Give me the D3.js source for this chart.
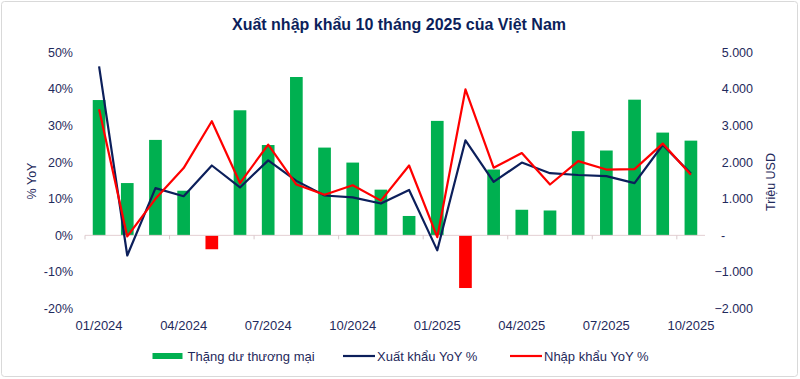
<!DOCTYPE html>
<html><head><meta charset="utf-8">
<script src="https://cdn.jsdelivr.net/npm/d3@7"></script>
<style>body{margin:0;background:#fff}svg{display:block;font-family:"Liberation Sans",Arial,sans-serif}</style>
</head><body><svg id="c" width="800" height="379"></svg>
<script>
const months = ["01/2024","02/2024","03/2024","04/2024","05/2024","06/2024","07/2024","08/2024","09/2024","10/2024","11/2024","12/2024",
"01/2025","02/2025","03/2025","04/2025","05/2025","06/2025","07/2025","08/2025","09/2025","10/2025"];
const surplus = [3700,1430,2610,1220,-380,3420,2470,4330,2400,1990,1250,530,3130,-1440,1800,700,680,2850,2320,3710,2810,2590];
const exportYoY = [46.2,-5.5,12.9,10.7,19.1,13.1,20.5,14.9,10.9,10.4,8.7,12.4,-4.1,26.0,14.6,19.9,17.0,16.5,16.2,14.3,24.7,16.9];
const importYoY = [34.5,-0.3,10.0,18.4,31.2,14.3,24.8,13.9,11.1,13.7,9.5,19.1,-0.5,39.9,18.5,22.5,13.9,20.3,18.0,18.1,25.1,16.6];
const leftTicks = [-20,-10,0,10,20,30,40,50];
const rightTicks = [-2000,-1000,0,1000,2000,3000,4000,5000];
const xLabelMonths = ["01/2024","04/2024","07/2024","10/2024","01/2025","04/2025","07/2025","10/2025"];
const title = "Xuất nhập khẩu 10 tháng 2025 của Việt Nam";
const legendItems = ["Thặng dư thương mại","Xuất khẩu YoY %","Nhập khẩu YoY %"];

const navy = "#0c1f5b", red = "#ff0000", green = "#00b050", txt = "#1f2a5c";
const svg = d3.select("#c");
svg.append("rect").attr("x",1.5).attr("y",1.5).attr("width",796).attr("height",375).attr("rx",3)
  .attr("fill","#fff").attr("stroke","#d9d9d9");

const x = d3.scaleBand().domain(months).range([85,705]).paddingInner(0.55).paddingOuter(0.275);
const yL = d3.scaleLinear().domain([-20,50]).range([308.5,52.5]);
const yR = d3.scaleLinear().domain([-2000,5000]).range([308.5,52.5]);
const cx = d => x(d) + x.bandwidth()/2;

svg.append("text").attr("x",399).attr("y",30).attr("text-anchor","middle")
  .attr("font-size",16).attr("font-weight","bold").attr("fill",navy).text(title);

// bars
svg.append("g").selectAll("rect").data(months).join("rect")
  .attr("x",d=>x(d)).attr("width",x.bandwidth())
  .attr("y",(d,i)=>yR(Math.max(0,surplus[i])))
  .attr("height",(d,i)=>Math.abs(yR(surplus[i])-yR(0)))
  .attr("fill",(d,i)=>surplus[i]<0?red:green);

// zero axis line
const step = x.step();
svg.append("line").attr("x1",85).attr("x2",705).attr("y1",yL(0)).attr("y2",yL(0))
  .attr("stroke","#e3cfd3").attr("stroke-width",1);
svg.append("g").selectAll("line").data(xLabelMonths).join("line")
  .attr("x1",d=>x(d)-step*0.275).attr("x2",d=>x(d)-step*0.275)
  .attr("y1",yL(0)).attr("y2",yL(0)+4).attr("stroke","#d9c9cc");

// lines
const line = arr => d3.line().x((d,i)=>cx(months[i])).y(d=>yL(d))(arr);
svg.append("path").attr("d",line(exportYoY)).attr("fill","none").attr("stroke",navy).attr("stroke-width",2.2).attr("stroke-linejoin","round");
svg.append("path").attr("d",line(importYoY)).attr("fill","none").attr("stroke",red).attr("stroke-width",2.2).attr("stroke-linejoin","round");

// left axis labels
svg.append("g").selectAll("text").data(leftTicks).join("text")
  .attr("x",73).attr("y",d=>yL(d)).attr("dy","0.35em").attr("text-anchor","end")
  .attr("font-size",12.5).attr("fill",txt).text(d=>d+"%");
svg.append("text").attr("transform","translate(36,181) rotate(-90)").attr("text-anchor","middle")
  .attr("font-size",12.5).attr("fill",txt).text("% YoY");

// right axis labels
const loc = d3.formatLocale({decimal:",",thousands:".",grouping:[3],currency:["",""]});
const fmt = loc.format(",d");
svg.append("g").selectAll("text").data(rightTicks).join("text")
  .attr("x",d=>d===0?721:753).attr("y",d=>yR(d)).attr("dy","0.35em").attr("text-anchor",d=>d===0?"start":"end")
  .attr("font-size",12.5).attr("fill",txt).text(d=>d===0?"-":fmt(d));
svg.append("text").attr("transform","translate(775,182) rotate(-90)").attr("text-anchor","middle")
  .attr("font-size",12.5).attr("fill",txt).text("Triệu USD");

// x labels
svg.append("g").selectAll("text").data(xLabelMonths).join("text")
  .attr("x",d=>cx(d)).attr("y",330).attr("text-anchor","middle")
  .attr("font-size",13).attr("fill",txt).text(d=>d);

// legend
const lg = svg.append("g").attr("font-size",13).attr("fill",txt);
lg.append("rect").attr("x",152.5).attr("y",353).attr("width",30).attr("height",6).attr("fill",green);
lg.append("text").attr("x",187.5).attr("y",361).text(legendItems[0]);
lg.append("line").attr("x1",343).attr("x2",375).attr("y1",356).attr("y2",356).attr("stroke",navy).attr("stroke-width",2.2);
lg.append("text").attr("x",377).attr("y",361).text(legendItems[1]);
lg.append("line").attr("x1",510).attr("x2",542).attr("y1",356).attr("y2",356).attr("stroke",red).attr("stroke-width",2.2);
lg.append("text").attr("x",544).attr("y",361).text(legendItems[2]);
</script></body></html>
